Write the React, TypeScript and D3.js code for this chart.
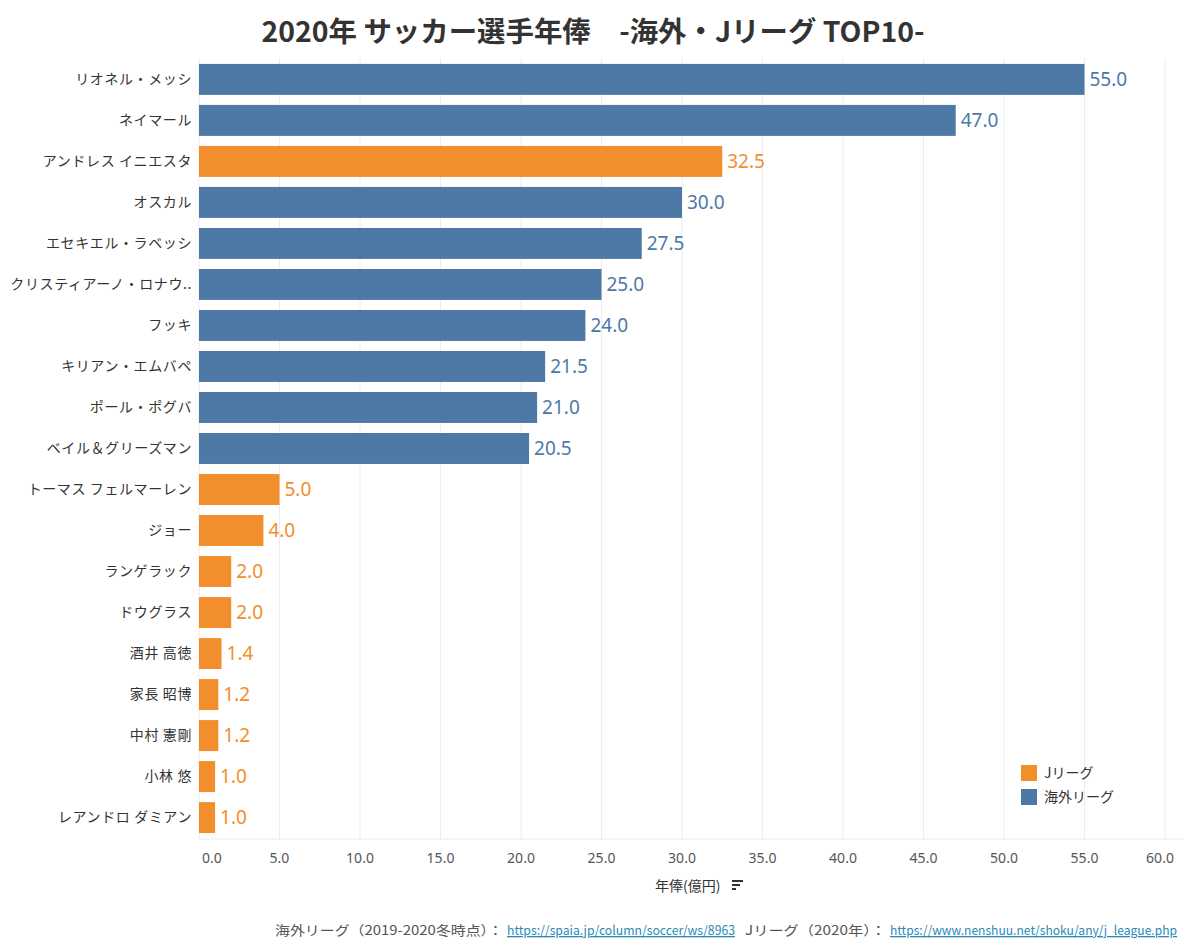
import React from "react";
import * as d3 from "d3";

const players = [
  "リオネル・メッシ", "ネイマール", "アンドレス イニエスタ", "オスカル", "エセキエル・ラベッシ",
  "クリスティアーノ・ロナウ..", "フッキ", "キリアン・エムバペ", "ポール・ポグバ", "ベイル＆グリーズマン",
  "トーマス フェルマーレン", "ジョー", "ランゲラック", "ドウグラス", "酒井 高徳",
  "家長 昭博", "中村 憲剛", "小林 悠", "レアンドロ ダミアン",
];
const salaries = [55.0, 47.0, 32.5, 30.0, 27.5, 25.0, 24.0, 21.5, 21.0, 20.5, 5.0, 4.0, 2.0, 2.0, 1.4, 1.2, 1.2, 1.0, 1.0];
const leagues = ["海外", "海外", "J", "海外", "海外", "海外", "海外", "海外", "海外", "海外", "J", "J", "J", "J", "J", "J", "J", "J", "J"];
const legendKeys = ["J", "海外"];
const legendLabels = ["Jリーグ", "海外リーグ"];
const xTicks = [0, 5, 10, 15, 20, 25, 30, 35, 40, 45, 50, 55, 60];
const footerParts = [
  { text: "海外リーグ（2019-2020冬時点）：", link: false, x0: 275, x1: 503 },
  { text: "https://spaia.jp/column/soccer/ws/8963", link: true, x0: 507, x1: 735 },
  { text: "Jリーグ（2020年）：", link: false, x0: 745, x1: 886 },
  { text: "https://www.nenshuu.net/shoku/any/j_league.php", link: true, x0: 890, x1: 1177 },
];

const W = 1200, H = 951;
const left = 199, right = 1183, top = 58, bottom = 839;
const FONT = "'Noto Sans CJK JP', 'Noto Sans', sans-serif";
const NUMFONT = "'Noto Sans', 'Open Sans', sans-serif";

export default function App() {
  const x = d3.scaleLinear().domain([0, 60]).range([left, 1165]);
  const y = d3.scaleBand<number>().domain(d3.range(players.length)).range([top + 1, bottom - 1]).paddingInner(0.245).paddingOuter(0.12);
  const color = d3.scaleOrdinal<string, string>().domain(legendKeys).range(["#f28e2b", "#4e79a7"]);

  return (
    <svg width={W} height={H} style={{ position: "absolute", left: 0, top: 0, background: "#fff" }} fontFamily={FONT}>
      <text x={593} y={42} textAnchor="middle" fontSize={28} fontWeight="bold" fill="#333" textLength={663} lengthAdjust="spacingAndGlyphs">
        2020年 サッカー選手年俸　-海外・Jリーグ TOP10-
      </text>
      {xTicks.map((t) => (
        <line key={"g" + t} x1={x(t)} x2={x(t)} y1={top} y2={bottom} stroke="#ececec" strokeWidth={1} />
      ))}
      <line x1={left} x2={right} y1={bottom} y2={bottom} stroke="#eaeaea" />
      {players.map((p, i) => {
        const yy = y(i)!;
        const bw = y.bandwidth();
        const c = color(leagues[i]);
        return (
          <g key={p}>
            <rect x={x(0)} y={yy} width={x(salaries[i]) - x(0)} height={bw} fill={c} />
            <text x={left - 7} y={yy + bw / 2} dy="0.35em" textAnchor="end" fontSize={14} letterSpacing={0.6} fill="#333">{p}</text>
            <text x={x(salaries[i]) + 5} y={yy + bw / 2} dy="0.36em" fontSize={19} fontFamily={NUMFONT} fill={c}>{d3.format(".1f")(salaries[i])}</text>
          </g>
        );
      })}
      {xTicks.map((t, i) => (
        <text key={"t" + t} x={i === 0 ? x(t) + 13 : i === xTicks.length - 1 ? x(t) - 5 : x(t)} y={863} textAnchor="middle" fontSize={14} fontFamily={NUMFONT} fill="#555">
          {d3.format(".1f")(t)}
        </text>
      ))}
      <text x={655} y={891} fontSize={14} fill="#333">年俸(億円)</text>
      <g fill="#333">
        <rect x={732} y={880} width={11} height={2} />
        <rect x={732} y={884} width={8} height={2} />
        <rect x={732} y={888} width={4} height={2} />
      </g>
      {legendKeys.map((k, i) => (
        <g key={k} transform={`translate(1021, ${765 + i * 24})`}>
          <rect width={16} height={16} fill={color(k)} />
          <text x={23} y={8} dy="0.35em" fontSize={14} fill="#333">{legendLabels[i]}</text>
        </g>
      ))}
      {footerParts.map((f) => (
        <text key={f.text} x={f.x0} y={935} fontSize={13} fill={f.link ? "#2a8ab8" : "#555"}
          textDecoration={f.link ? "underline" : undefined} textLength={f.x1 - f.x0} lengthAdjust="spacingAndGlyphs">
          {f.text}
        </text>
      ))}
    </svg>
  );
}
